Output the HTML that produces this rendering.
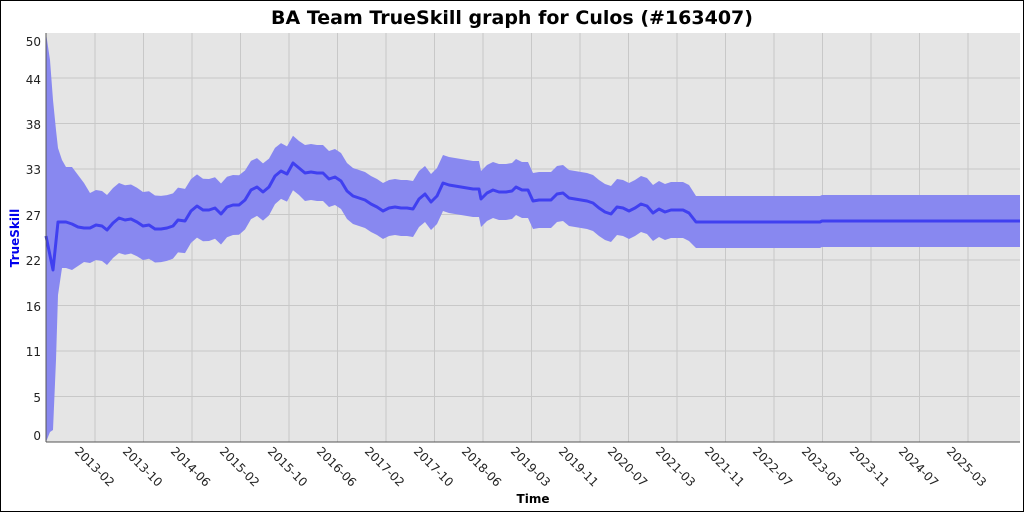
<!DOCTYPE html>
<html><head><meta charset="utf-8"><style>
body{margin:0;background:#fff;}
svg{display:block;font-family:"DejaVu Sans","Liberation Sans",sans-serif;}
</style></head><body>
<svg id="s" width="1024" height="512" viewBox="0 0 1024 512" xmlns="http://www.w3.org/2000/svg">
<rect x="0.5" y="0.5" width="1023" height="511" fill="#fff" stroke="#000"/>
<text x="512" y="24" text-anchor="middle" font-size="19" font-weight="bold">BA Team TrueSkill graph for Culos (#163407)</text>
<rect x="46" y="33" width="974" height="409" fill="#e5e5e5"/>
<g id="grid" stroke="#c8c8c8" stroke-width="1"></g>
<path id="band" fill="#8888f0" stroke="none"/>
<polyline id="mean" fill="none" stroke="#4040f0" stroke-width="3" stroke-linejoin="round"/>
<line x1="46" y1="33" x2="46" y2="442" stroke="#555"/>
<line x1="46" y1="442" x2="1020" y2="442" stroke="#555"/>
<g font-size="12" text-anchor="end" fill="#222">
<text x="41" y="46">50</text><text x="41" y="84">44</text><text x="41" y="129">38</text>
<text x="41" y="174">33</text><text x="41" y="220">27</text><text x="41" y="265">22</text>
<text x="41" y="311">16</text><text x="41" y="356">11</text><text x="41" y="402">5</text>
<text x="41" y="440">0</text>
</g>
<text transform="translate(19,238) rotate(-90)" text-anchor="middle" font-size="12" font-weight="bold" fill="#0000ee">TrueSkill</text>
<text x="533" y="503" text-anchor="middle" font-size="12" font-weight="bold">Time</text>
<g id="xl" font-size="12" fill="#222">
<text transform="translate(74,452) rotate(45)">2013-02</text>
<text transform="translate(122,452) rotate(45)">2013-10</text>
<text transform="translate(170,452) rotate(45)">2014-06</text>
<text transform="translate(219,452) rotate(45)">2015-02</text>
<text transform="translate(267,452) rotate(45)">2015-10</text>
<text transform="translate(316,452) rotate(45)">2016-06</text>
<text transform="translate(364,452) rotate(45)">2017-02</text>
<text transform="translate(413,452) rotate(45)">2017-10</text>
<text transform="translate(461,452) rotate(45)">2018-06</text>
<text transform="translate(510,452) rotate(45)">2019-03</text>
<text transform="translate(558,452) rotate(45)">2019-11</text>
<text transform="translate(607,452) rotate(45)">2020-07</text>
<text transform="translate(655,452) rotate(45)">2021-03</text>
<text transform="translate(704,452) rotate(45)">2021-11</text>
<text transform="translate(752,452) rotate(45)">2022-07</text>
<text transform="translate(801,452) rotate(45)">2023-03</text>
<text transform="translate(849,452) rotate(45)">2023-11</text>
<text transform="translate(898,452) rotate(45)">2024-07</text>
<text transform="translate(946,452) rotate(45)">2025-03</text>
</g>
</svg>
<script>
var g=document.getElementById('grid'),h='';
for(var k=1;k<=8;k++){var y=442-45.5*k;h+='<line x1="46" x2="1020" y1="'+y+'" y2="'+y+'"/>';}
for(var k=0;k<19;k++){var x=95+48.5*k;h+='<line y1="33" y2="442" x1="'+x+'" x2="'+x+'"/>';}
g.innerHTML=h;
var m=[[46,236],[53,270],[58,222],[66,222],[72,224],[78,227],[84,228],[90,228],[96,225],[102,226],[107,230],[113,223],[119,218],[125,220],[131,219],[137,222],[143,226],[149,225],[155,229],[161,229],[167,228],[173,226],[178,220],[185,221],[191,211],[197,206],[203,210],[209,210],[215,208],[221,214],[227,207],[233,205],[239,205],[245,200],[251,190],[257,187],[263,192],[269,187],[275,176],[281,171],[287,174],[293,163],[299,168],[305,173],[311,172],[317,173],[323,173],[329,179],[335,177],[341,181],[347,191],[353,196],[359,198],[365,200],[371,204],[377,207],[383,211],[389,208],[395,207],[401,208],[407,208],[413,209],[419,199],[425,194],[431,202],[437,196],[443,183],[449,185],[455,186],[461,187],[467,188],[473,189],[479,189],[481,199],[487,193],[493,190],[499,192],[506,192],[512,191],[516,187],[522,190],[528,190],[533,201],[539,200],[545,200],[551,200],[557,194],[563,193],[569,198],[575,199],[581,200],[587,201],[593,203],[599,208],[605,212],[611,214],[617,207],[623,208],[629,211],[635,208],[641,204],[647,206],[653,213],[659,209],[665,212],[671,210],[677,210],[683,210],[689,213],[696,222],[820,222],[822,221],[1020,221]];
function d(x){if(x<=120)return 35;if(x<=300)return 35-8*(x-120)/180;if(x<690)return 28;return 26;}
var up=[[46,33],[50,60],[53,100],[56,130],[58,148],[62,160],[66,167],[72,167],[78,175],[84,183]];
var lo=[[46,442],[50,432],[53,430],[56,360],[58,295],[62,268],[66,268],[72,270],[78,266],[84,262]];
m.forEach(function(p){if(p[0]>=90){up.push([p[0],p[1]-d(p[0])]);lo.push([p[0],p[1]+d(p[0])]);}});
var s='M'+up.map(function(p){return p.join(',')}).join(' L');
s+=' L'+lo.reverse().map(function(p){return p.join(',')}).join(' L')+' Z';
document.getElementById('band').setAttribute('d',s);
document.getElementById('mean').setAttribute('points',m.map(function(p){return p.join(',')}).join(' '));
</script>
</body></html>
